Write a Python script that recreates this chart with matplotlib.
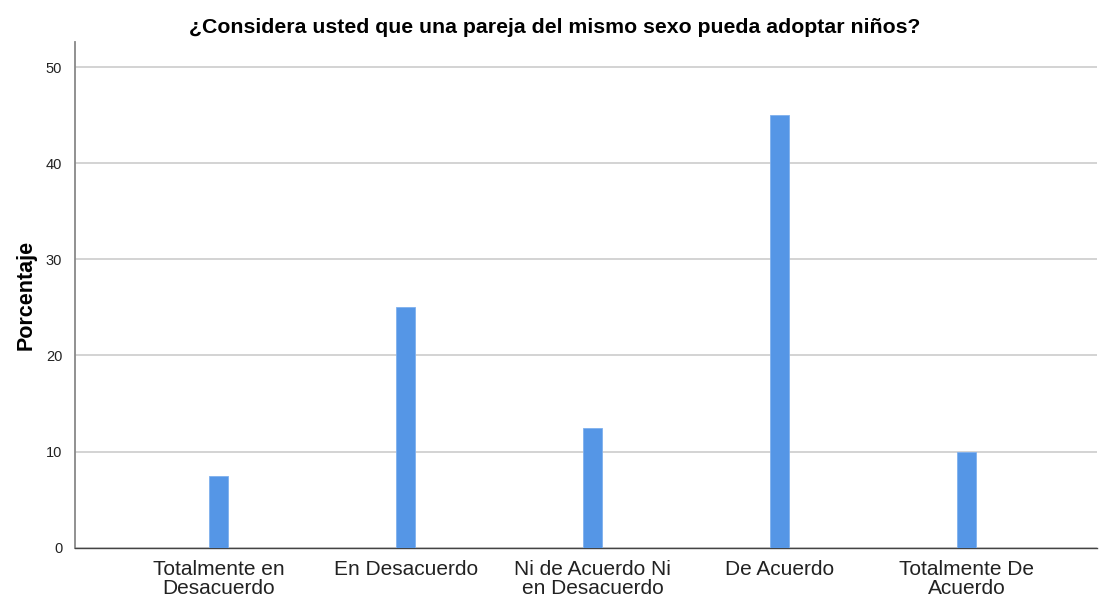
import matplotlib
matplotlib.use("Agg")
import matplotlib.pyplot as plt

#%% data
categorias = ["Totalmente en\nDesacuerdo", "En Desacuerdo", "Ni de Acuerdo Ni\nen Desacuerdo",
              "De Acuerdo", "Totalmente De\nAcuerdo"]
porcentaje = [7.5, 25.0, 12.5, 45.0, 10.0]
yticks = [0, 10, 20, 30, 40, 50]

plt.rcParams['font.family'] = ['Liberation Sans', 'DejaVu Sans']

#%% plot
fig = plt.figure(figsize=(10.99, 6), dpi=100)
ax = fig.add_axes([0.068, 0.087, 0.93, 0.843])

x = list(range(len(categorias)))
ax.bar(x, porcentaje, width=0.1, color='#5596e6', edgecolor='#7fb0ee', linewidth=0.6, zorder=3)

ax.set_xlim(-0.77, 4.695)
ax.set_ylim(0, 52.6)
ax.set_yticks(yticks)
ax.set_xticks(x)
ax.set_xticklabels(categorias, fontsize=15, color='#222222', linespacing=0.98)
ax.tick_params(axis='y', labelsize=10.5, colors='#222222', length=0, pad=9)
ax.tick_params(axis='x', length=0, pad=9)

ax.grid(axis='y', color='#cccccc', linewidth=1.2, zorder=0)
for s in ['top', 'right']:
    ax.spines[s].set_visible(False)
ax.spines['left'].set_color('#888888')
ax.spines['left'].set_linewidth(1.3)
ax.spines['bottom'].set_color('#444444')
ax.spines['bottom'].set_linewidth(1.0)

ax.set_ylabel("Porcentaje", fontsize=15.5, fontweight='bold', labelpad=7)
fig.suptitle("¿Considera usted que una pareja del mismo sexo pueda adoptar niños?",
             fontsize=15.3, fontweight='bold', x=0.505, y=0.97)

fig.savefig("out.png", dpi=100)
